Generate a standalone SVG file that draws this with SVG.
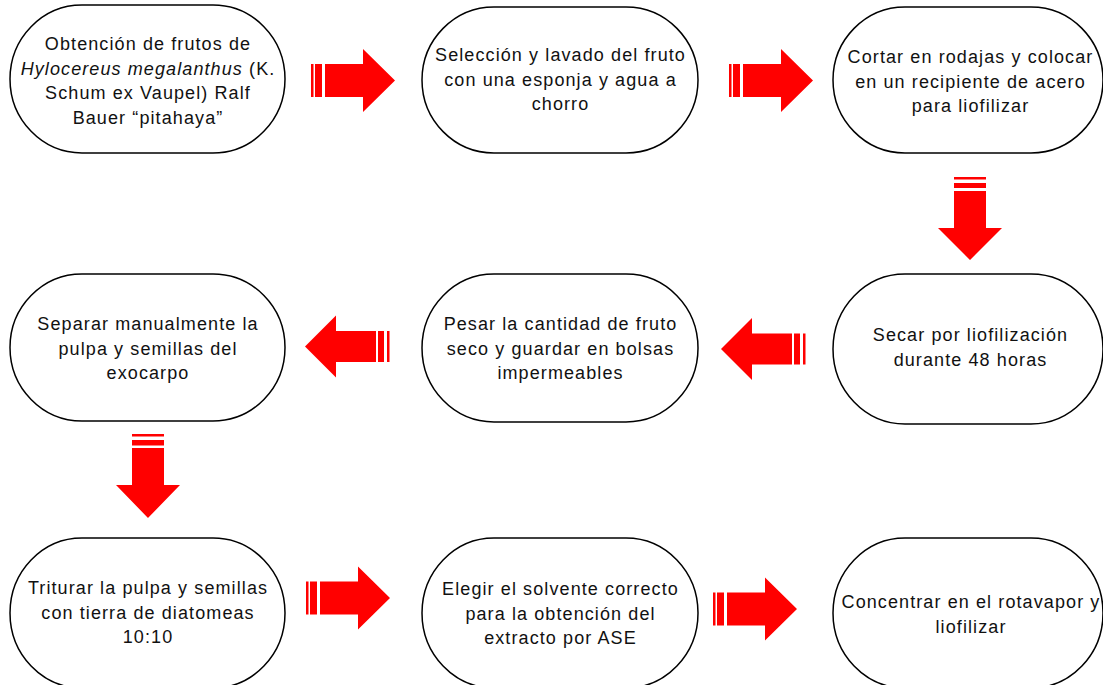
<svg xmlns="http://www.w3.org/2000/svg" width="1103" height="685" viewBox="0 0 1103 685">
<style>
.node{fill:#fff;stroke:#000;stroke-width:1.5}
.t{font-family:"Liberation Sans",Arial,sans-serif;font-size:18px;letter-spacing:1.1px;fill:#111;text-anchor:middle}
.ar{fill:#ff0000}
</style>
<rect width="1103" height="685" fill="#fff"/>
<g id="connectors">
  <g id="a1"><rect class="ar" x="311" y="64" width="2.5" height="33"/><rect class="ar" x="315" y="64" width="7" height="33"/><polygon class="ar" points="325,64 363,64 363,49 395,80.5 363,112 363,97 325,97"/></g>
  <g id="a2"><rect class="ar" x="729" y="64" width="2.5" height="33"/><rect class="ar" x="733" y="64" width="7" height="33"/><polygon class="ar" points="743,64 781,64 781,49 813,80.5 781,112 781,97 743,97"/></g>
  <g id="a3"><rect class="ar" x="954" y="177" width="32" height="2.5"/><rect class="ar" x="954" y="183" width="32" height="5"/><polygon class="ar" points="954,191 986,191 986,228 1002,228 970,260 938,228 954,228"/></g>
  <g id="a4"><polygon class="ar" points="721,349 752,318 752,333.5 792,333.5 792,364.5 752,364.5 752,380"/><rect class="ar" x="794" y="333.5" width="6" height="31"/><rect class="ar" x="803" y="333.5" width="2.5" height="31"/></g>
  <g id="a5"><polygon class="ar" points="305,346.5 336,315.5 336,331 376,331 376,362 336,362 336,377.5"/><rect class="ar" x="378" y="331" width="6" height="31"/><rect class="ar" x="387" y="331" width="2.5" height="31"/></g>
  <g id="a6"><rect class="ar" x="132" y="434" width="32" height="2.5"/><rect class="ar" x="132" y="440" width="32" height="5.5"/><polygon class="ar" points="132,448 164,448 164,485 180,485 148,518 116,485 132,485"/></g>
  <g id="a7"><rect class="ar" x="306" y="581.5" width="2.5" height="33"/><rect class="ar" x="310" y="581.5" width="7" height="33"/><polygon class="ar" points="320,581.5 358,581.5 358,566.5 390,598 358,629.5 358,614.5 320,614.5"/></g>
  <g id="a8"><rect class="ar" x="713" y="592.5" width="2.5" height="33"/><rect class="ar" x="717" y="592.5" width="7" height="33"/><polygon class="ar" points="727,592.5 765,592.5 765,577.5 797,609 765,640.5 765,625.5 727,625.5"/></g>
</g>
<g id="n1"><rect class="node" x="10" y="5" width="275" height="148" rx="72" ry="74"/>
<text class="t" x="148" y="50">Obtención de frutos de</text>
<text class="t" x="148" y="74.5"><tspan font-style="italic">Hylocereus megalanthus</tspan> (K.</text>
<text class="t" x="148" y="99">Schum ex Vaupel) Ralf</text>
<text class="t" x="148" y="123.5">Bauer “pitahaya”</text></g>
<g id="n2"><rect class="node" x="422" y="7" width="276" height="146" rx="72" ry="73"/>
<text class="t" x="560.5" y="61">Selección y lavado del fruto</text>
<text class="t" x="560.5" y="85.5">con una esponja y agua a</text>
<text class="t" x="560.5" y="110">chorro</text></g>
<g id="n3"><rect class="node" x="833" y="7" width="270" height="146" rx="72" ry="73"/>
<text class="t" x="970.5" y="63">Cortar en rodajas y colocar</text>
<text class="t" x="970.5" y="87.5">en un recipiente de acero</text>
<text class="t" x="970.5" y="112">para liofilizar</text></g>
<g id="n4"><rect class="node" x="10" y="274" width="275" height="147" rx="72" ry="73.5"/>
<text class="t" x="148" y="330">Separar manualmente la</text>
<text class="t" x="148" y="354.5">pulpa y semillas del</text>
<text class="t" x="148" y="379">exocarpo</text></g>
<g id="n5"><rect class="node" x="422" y="274" width="276" height="148" rx="72" ry="74"/>
<text class="t" x="560.5" y="330">Pesar la cantidad de fruto</text>
<text class="t" x="560.5" y="354.5">seco y guardar en bolsas</text>
<text class="t" x="560.5" y="379">impermeables</text></g>
<g id="n6"><rect class="node" x="833" y="274" width="270" height="150" rx="72" ry="75"/>
<text class="t" x="970.5" y="341">Secar por liofilización</text>
<text class="t" x="970.5" y="365.5">durante 48 horas</text></g>
<g id="n7"><rect class="node" x="10" y="538" width="275" height="150" rx="72" ry="75"/>
<text class="t" x="148" y="594">Triturar la pulpa y semillas</text>
<text class="t" x="148" y="618.5">con tierra de diatomeas</text>
<text class="t" x="148" y="643">10:10</text></g>
<g id="n8"><rect class="node" x="422" y="538" width="276" height="150" rx="72" ry="75"/>
<text class="t" x="560.5" y="595">Elegir el solvente correcto</text>
<text class="t" x="560.5" y="619.5">para la obtención del</text>
<text class="t" x="560.5" y="644">extracto por ASE</text></g>
<g id="n9"><rect class="node" x="833" y="538" width="270" height="150" rx="72" ry="75"/>
<text class="t" x="971" y="608">Concentrar en el rotavapor y</text>
<text class="t" x="971" y="632.5">liofilizar</text></g>
</svg>
